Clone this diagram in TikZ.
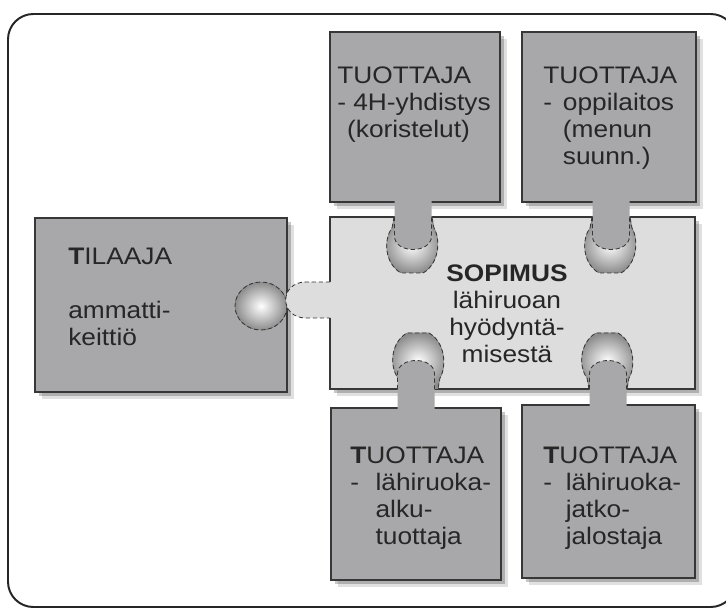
\documentclass[tikz,border=0pt]{standalone}
\usepackage{fontspec}
\setmainfont{Liberation Sans}[FakeStretch=1.1]
\usetikzlibrary{shadows}

\definecolor{piece}{RGB}{168,168,170}
\definecolor{middle}{RGB}{221,221,221}
\definecolor{rim}{RGB}{55,55,55}

\tikzset{
  soft/.style={drop shadow={shadow xshift=2.5pt, shadow yshift=-2.5pt, opacity=.22, fill=black},
               drop shadow={shadow xshift=5pt, shadow yshift=-5pt, opacity=.12, fill=black}},
  tile/.style={fill=piece, draw=rim, line width=0.8pt, soft},
  hole/.style={shading=radial, inner color=white, outer color=black!45},
  seam/.style={draw=rim, densely dashed, line width=0.6pt},
  txt/.style={anchor=north west, align=left, inner sep=0pt, text=black!85,
              font=\fontsize{17}{19.2}\selectfont}
}

\begin{document}
\begin{tikzpicture}[x=0.025cm, y=-0.025cm]
\useasboundingbox (0,0) rectangle (726,610);
\draw[line width=1.4pt, black!85, rounded corners=18pt] (8,14) rectangle (736,607);

% the six pieces
\draw[tile] (330,32) rectangle (500,202);
\draw[tile] (522,32) rectangle (696,202);
\draw[tile] (35,218) rectangle (287,392);
\draw[tile, fill=middle] (330,217) rectangle (695,389);
\draw[tile] (331,408) rectangle (501,580);
\draw[tile] (522,405) rectangle (695,578);

% sockets in the middle piece
\foreach \x/\y/\s in {413/217/1, 611/217/1, 419/389/-1, 608/389/-1} {
  \begin{scope}[shift={(\x,\y)}, yscale=\s]
    \fill[hole] (-19,0) -- (-21,11) .. controls (-30,23) and (-28,47) .. (-12,56) -- (10,56) .. controls (26,47) and (28,23) .. (21,11) -- (19,0) -- cycle;
    \draw[seam] (-19,0) -- (-21,11) .. controls (-30,23) and (-28,47) .. (-12,56) -- (10,56) .. controls (26,47) and (28,23) .. (21,11) -- (19,0);
  \end{scope}
}
% socket in the left piece
\fill[hole] (261,306) ellipse [x radius=26, y radius=24];
\draw[seam] (261,306) ellipse [x radius=26, y radius=24];

% tabs
\foreach \x/\y/\s/\e in {413/202/1/15, 611/202/1/15, 416/408/-1/19, 608/408/-1/19} {
  \begin{scope}[shift={(\x,\y)}, yscale=\s]
    \fill[piece] (-18.5,-1) -- (-18.5,34) .. controls (-18.5,52) and (18.5,52) .. (18.5,34) -- (18.5,-1) -- cycle;
    \draw[seam] (-18.5,\e) -- (-18.5,34) .. controls (-18.5,52) and (18.5,52) .. (18.5,34) -- (18.5,\e);
  \end{scope}
}
\fill[middle] (331,282) -- (306,282) .. controls (279,282) and (279,318) .. (306,318) -- (331,318) -- cycle;
\draw[seam] (330,282) -- (306,282) .. controls (279,282) and (279,318) .. (306,318) -- (330,318);

% texts
\node[txt] (t4htext) at (337,67) {TUOTTAJA\\- 4H-yhdistys\\\hspace*{7pt}(koristelut)};
\node[txt] (oppitext) at (543,67) {TUOTTAJA\\\makebox[14pt][l]{-}oppilaitos\\\hspace*{14pt}(menun\\\hspace*{14pt}suunn.)};
\node[txt] (tilaajatext) at (68,248) {\textbf{T}ILAAJA\\[19pt]ammatti-\\keittiö};
\node[txt, anchor=north, align=center] (sopimustext) at (507,265) {\textbf{SOPIMUS}\\lähiruoan\\hyödyntä-\\misestä};
\node[txt] (alkutext) at (350,447) {\textbf{T}UOTTAJA\\\makebox[18pt][l]{-}lähiruoka-\\\hspace*{18pt}alku-\\\hspace*{18pt}tuottaja};
\node[txt] (jatkotext) at (543,447) {\textbf{T}UOTTAJA\\\makebox[16pt][l]{-}lähiruoka-\\\hspace*{16pt}jatko-\\\hspace*{16pt}jalostaja};
\end{tikzpicture}
\end{document}
